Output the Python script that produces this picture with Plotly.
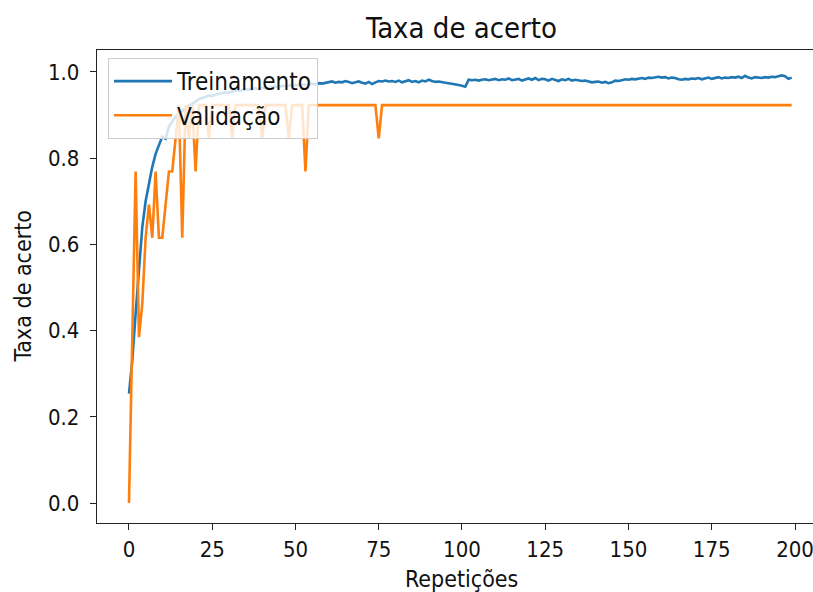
import plotly.graph_objects as go

# Epochs (Repetições)
epochs = list(range(200))

# Training accuracy (Treinamento)
treinamento = [
    0.254, 0.330, 0.440, 0.550, 0.640, 0.700, 0.745, 0.780, 0.810, 0.832,
    0.850, 0.845, 0.873, 0.885, 0.896, 0.903, 0.910, 0.915, 0.922, 0.926,
    0.932, 0.937, 0.940, 0.942, 0.946, 0.944, 0.948, 0.949, 0.951, 0.953,
    0.952, 0.955, 0.957, 0.956, 0.958, 0.960, 0.959, 0.961, 0.962, 0.960,
    0.963, 0.964, 0.962, 0.966, 0.967, 0.965, 0.968, 0.967, 0.969, 0.968,
    0.970, 0.969, 0.971, 0.970, 0.972, 0.973, 0.971, 0.974, 0.973, 0.975,
    0.976, 0.978, 0.975, 0.977, 0.976, 0.979, 0.977, 0.974, 0.976, 0.978,
    0.975, 0.973, 0.977, 0.972, 0.976, 0.979, 0.978, 0.980, 0.978, 0.979,
    0.977, 0.980, 0.976, 0.978, 0.981, 0.977, 0.979, 0.976, 0.980, 0.978,
    0.982, 0.979, 0.977, 0.978, 0.976, 0.975, 0.974, 0.973, 0.972, 0.970,
    0.968, 0.966, 0.982, 0.981, 0.982, 0.980, 0.982, 0.983, 0.981, 0.982,
    0.984, 0.981, 0.983, 0.982, 0.985, 0.981, 0.983, 0.984, 0.980, 0.983,
    0.985, 0.982, 0.986, 0.981, 0.984, 0.983, 0.980, 0.984, 0.982, 0.979,
    0.983, 0.981, 0.984, 0.980, 0.982, 0.981, 0.979, 0.980, 0.978, 0.976,
    0.977, 0.978, 0.975, 0.977, 0.974, 0.976, 0.980, 0.979, 0.981, 0.983,
    0.982, 0.984, 0.983, 0.985, 0.986, 0.984, 0.987, 0.986, 0.988, 0.989,
    0.987, 0.988, 0.985, 0.987, 0.986, 0.983, 0.982, 0.984, 0.983, 0.985,
    0.984, 0.986, 0.983, 0.985, 0.987, 0.984, 0.986, 0.988, 0.985, 0.987,
    0.986, 0.988, 0.987, 0.989, 0.986, 0.991, 0.987, 0.985, 0.988, 0.987,
    0.986, 0.988, 0.987, 0.989, 0.988, 0.990, 0.992, 0.990, 0.984, 0.987,
]

# Validation accuracy (Validação) (multiples of 1/13)
validacao = [
    0.0000, 0.3846, 0.7692, 0.3846, 0.4615, 0.6154, 0.6923, 0.6154, 0.7692, 0.6154,
    0.6154, 0.6923, 0.7692, 0.7692, 0.8462, 0.9231, 0.6154, 0.9231, 0.8462, 0.9231,
    0.7692, 0.9231, 0.9231, 0.9231, 0.8462, 0.9231, 0.9231, 0.9231, 0.9231, 0.9231,
    0.9231, 0.8462, 0.9231, 0.9231, 0.9231, 0.9231, 0.9231, 0.9231, 0.9231, 0.9231,
    0.8462, 0.9231, 0.9231, 0.9231, 0.9231, 0.9231, 0.9231, 0.9231, 0.8462, 0.9231,
    0.9231, 0.9231, 0.9231, 0.7692, 0.9231, 0.9231, 0.9231, 0.9231, 0.9231, 0.9231,
    0.9231, 0.9231, 0.9231, 0.9231, 0.9231, 0.9231, 0.9231, 0.9231, 0.9231, 0.9231,
    0.9231, 0.9231, 0.9231, 0.9231, 0.9231, 0.8462, 0.9231, 0.9231, 0.9231, 0.9231,
    0.9231, 0.9231, 0.9231, 0.9231, 0.9231, 0.9231, 0.9231, 0.9231, 0.9231, 0.9231,
    0.9231, 0.9231, 0.9231, 0.9231, 0.9231, 0.9231, 0.9231, 0.9231, 0.9231, 0.9231,
    0.9231, 0.9231, 0.9231, 0.9231, 0.9231, 0.9231, 0.9231, 0.9231, 0.9231, 0.9231,
    0.9231, 0.9231, 0.9231, 0.9231, 0.9231, 0.9231, 0.9231, 0.9231, 0.9231, 0.9231,
    0.9231, 0.9231, 0.9231, 0.9231, 0.9231, 0.9231, 0.9231, 0.9231, 0.9231, 0.9231,
    0.9231, 0.9231, 0.9231, 0.9231, 0.9231, 0.9231, 0.9231, 0.9231, 0.9231, 0.9231,
    0.9231, 0.9231, 0.9231, 0.9231, 0.9231, 0.9231, 0.9231, 0.9231, 0.9231, 0.9231,
    0.9231, 0.9231, 0.9231, 0.9231, 0.9231, 0.9231, 0.9231, 0.9231, 0.9231, 0.9231,
    0.9231, 0.9231, 0.9231, 0.9231, 0.9231, 0.9231, 0.9231, 0.9231, 0.9231, 0.9231,
    0.9231, 0.9231, 0.9231, 0.9231, 0.9231, 0.9231, 0.9231, 0.9231, 0.9231, 0.9231,
    0.9231, 0.9231, 0.9231, 0.9231, 0.9231, 0.9231, 0.9231, 0.9231, 0.9231, 0.9231,
    0.9231, 0.9231, 0.9231, 0.9231, 0.9231, 0.9231, 0.9231, 0.9231, 0.9231, 0.9231,
]

x_ticks = [0, 25, 50, 75, 100, 125, 150, 175, 200]
y_ticks = [0.0, 0.2, 0.4, 0.6, 0.8, 1.0]

title_text = "Taxa de acerto"
x_label = "Repetições"
y_label = "Taxa de acerto"
series_names = ["Treinamento", "Validação"]

FONT = "DejaVu Sans Condensed, DejaVu Sans, sans-serif"
W, H = 813, 592
ML, MR, MT, MB = 97, 0, 50, 69

fig = go.Figure()
fig.add_trace(go.Scatter(x=epochs, y=treinamento, mode="lines", name=series_names[0],
                         line=dict(color="#1f77b4", width=2.6)))
fig.add_trace(go.Scatter(x=epochs, y=validacao, mode="lines", name=series_names[1],
                         line=dict(color="#ff7f0e", width=2.6)))

axis_common = dict(showgrid=False, zeroline=False, showline=True, linecolor="#222222",
                   linewidth=1.4, ticks="outside", ticklen=6, tickwidth=1.3,
                   tickcolor="#222222", ticklabeloverflow="allow",
                   tickfont=dict(family=FONT, size=22, color="#111111"))

fig.update_xaxes(range=[-9.6, 205.4], tickvals=x_ticks, mirror=True, **axis_common)
fig.update_yaxes(range=[-0.0464, 1.051], tickvals=y_ticks, tickformat=".1f",
                 ticklabelstandoff=6, **axis_common)

pw = W - ML - MR
ph = H - MT - MB
cx = (461 - ML) / pw

fig.update_layout(
    width=W, height=H,
    margin=dict(l=ML, r=MR, t=MT, b=MB, pad=0),
    paper_bgcolor="white", plot_bgcolor="white",
    showlegend=True,
    legend=dict(x=(108 - ML) / pw, y=1 - (58 - MT) / ph,
                xanchor="left", yanchor="top",
                bgcolor="rgba(255,255,255,0.8)", bordercolor="#cccccc", borderwidth=1,
                font=dict(family=FONT, size=24, color="#111111"),
                itemwidth=58),
    annotations=[
        dict(text=title_text, xref="paper", yref="paper", x=cx, y=1 + (MT - 28) / ph,
             xanchor="center", yanchor="middle", showarrow=False,
             font=dict(family=FONT, size=29, color="#111111")),
        dict(text=x_label, xref="paper", yref="paper", x=cx, y=-(579 - (H - MB)) / ph,
             xanchor="center", yanchor="middle", showarrow=False,
             font=dict(family=FONT, size=23, color="#111111")),
        dict(text=y_label, xref="paper", yref="paper", x=-(ML - 22) / pw, y=0.5,
             xanchor="center", yanchor="middle", showarrow=False, textangle=-90,
             font=dict(family=FONT, size=23, color="#111111")),
    ],
)

fig.write_html("out.html", config={"displayModeBar": False},
               post_script="document.body.style.margin='0px';document.body.style.overflow='hidden';")
